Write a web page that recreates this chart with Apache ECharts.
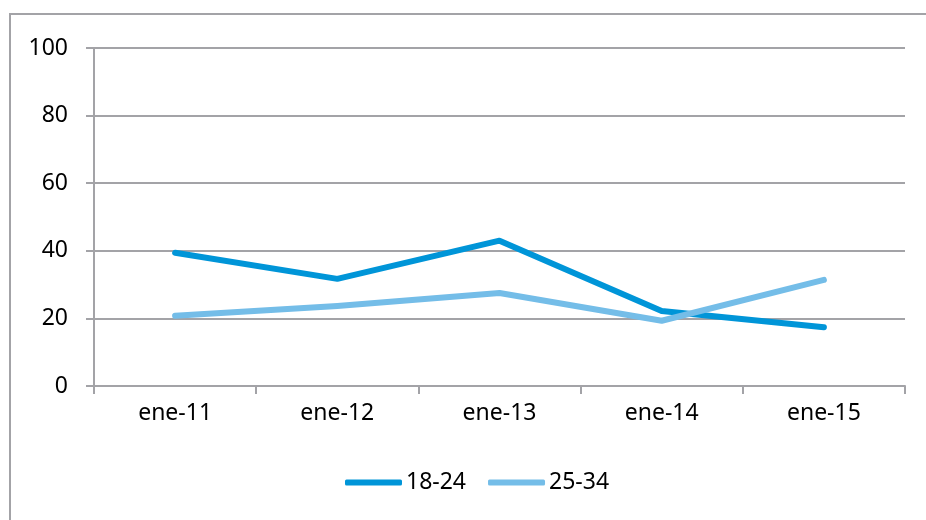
<!DOCTYPE html>
<html><head><meta charset="utf-8">
<script src="https://cdn.jsdelivr.net/npm/echarts@6/dist/echarts.min.js"></script>
<style>html,body{margin:0;padding:0;background:#fff}#c{width:926px;height:520px}</style>
</head><body><div id="c"></div>
<script>
const categories = ['ene-11','ene-12','ene-13','ene-14','ene-15'];
const s1824 = [39.4, 31.7, 43.0, 22.2, 17.4];
const s2534 = [20.8, 23.7, 27.5, 19.3, 31.4];
const yTicks = [0, 20, 40, 60, 80, 100];
const seriesNames = ['18-24','25-34'];

const chart = echarts.init(document.getElementById('c'), null, {renderer:'canvas'});
const font = '"Noto Sans", sans-serif';
const grey = '#a3a3a7';
chart.setOption({
  animation:false,
  graphic:[{type:'rect', shape:{x:10,y:14,width:940,height:540}, style:{fill:'none', stroke:grey, lineWidth:2}, silent:true}],
  grid:{left:94, right:21, top:48, bottom:134, containLabel:false},
  legend:{
    data:seriesNames, top:466, left:340,
    icon:'roundRect', itemWidth:57, itemHeight:6, itemGap:22,
    textStyle:{fontFamily:font, fontSize:23, color:'#000', padding:[0,0,0,-1]}
  },
  xAxis:{
    type:'category', data:categories, boundaryGap:true,
    axisLine:{lineStyle:{color:grey, width:2}},
    axisTick:{show:true, length:8, lineStyle:{color:grey, width:2}},
    axisLabel:{fontFamily:font, fontSize:23, color:'#000', margin:16}
  },
  yAxis:{
    type:'value', min:yTicks[0], max:yTicks[yTicks.length-1], interval:20,
    axisLine:{show:true, lineStyle:{color:grey, width:2}},
    axisTick:{show:true, length:8, lineStyle:{color:grey, width:2}},
    splitLine:{lineStyle:{color:grey, width:2}},
    axisLabel:{fontFamily:font, fontSize:23, color:'#000', margin:26}
  },
  series:[
    {name:seriesNames[0], type:'line', data:s1824, symbol:'none', lineStyle:{color:'#0095d8', width:6, cap:'round', join:'round'}, itemStyle:{color:'#0095d8'}},
    {name:seriesNames[1], type:'line', data:s2534, symbol:'none', lineStyle:{color:'#74bde8', width:6, cap:'round', join:'round'}, itemStyle:{color:'#74bde8'}}
  ]
});
</script></body></html>
